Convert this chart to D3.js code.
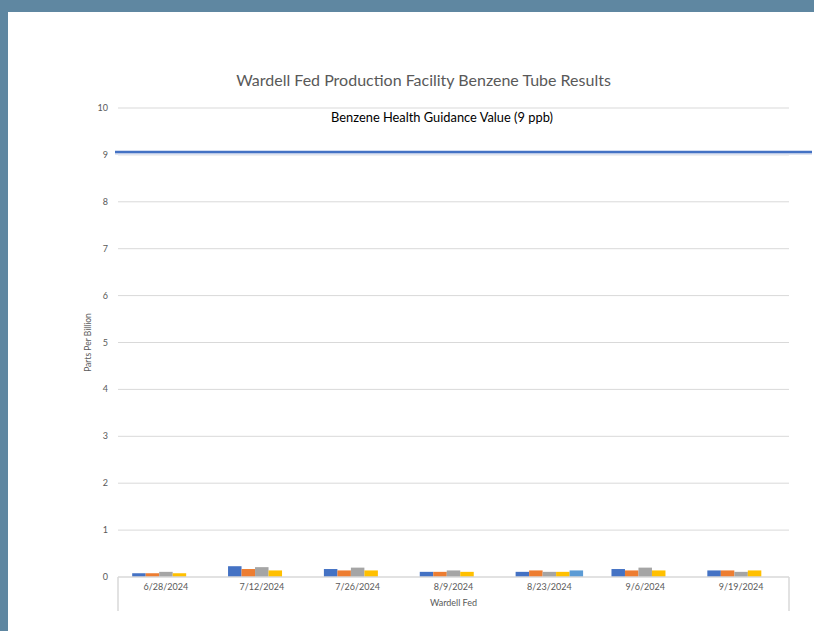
<!DOCTYPE html>
<html>
<head>
<meta charset="utf-8">
<script src="https://cdn.jsdelivr.net/npm/d3@7"></script>
<style>
  html, body { margin: 0; padding: 0; background: #5f87a1; }
  #chart { position: absolute; left: 8px; top: 12px; width: 806px; height: 619px; background: #fff; }
  svg { display: block; }
</style>
</head>
<body>
<div id="chart"></div>
<script>
const categories = ['6/28/2024', '7/12/2024', '7/26/2024', '8/9/2024', '8/23/2024', '9/6/2024', '9/19/2024'];
const seriesNames = ['Tube 1', 'Tube 2', 'Tube 3', 'Tube 4', 'Tube 5'];
const tube1 = [0.08, 0.23, 0.17, 0.11, 0.11, 0.17, 0.14];
const tube2 = [0.08, 0.17, 0.14, 0.11, 0.14, 0.14, 0.14];
const tube3 = [0.11, 0.21, 0.20, 0.14, 0.11, 0.20, 0.11];
const tube4 = [0.08, 0.14, 0.14, 0.11, 0.11, 0.14, 0.14];
const tube5 = [null, null, null, null, 0.14, null, null];
const yTicks = [0, 1, 2, 3, 4, 5, 6, 7, 8, 9, 10];
const guidanceValue = 9.06; // line drawn just above the 9 gridline
const groupLabel = 'Wardell Fed';
const titleText = 'Wardell Fed Production Facility Benzene Tube Results';
const guidanceText = 'Benzene Health Guidance Value (9 ppb)';
const yTitle = 'Parts Per Billion';

const colors = ['#4472c4', '#ed7d31', '#a5a5a5', '#ffc000', '#5b9bd5'];
const allSeries = [tube1, tube2, tube3, tube4, tube5];

// page coords are offset by the panel (8, 12)
const ox = 8, oy = 12;
const width = 806, height = 619;
const plot = { left: 118 - ox, right: 789 - ox, top: 108 - oy, bottom: 577 - oy };
const font = 'Lato, "Noto Sans", sans-serif';
const grey = '#595959', lineGrey = '#d9d9d9';

const svg = d3.select('#chart').append('svg').attr('width', width).attr('height', height);

const x = d3.scaleBand().domain(categories).range([plot.left, plot.right]).paddingInner(0.296).paddingOuter(0.148);
const xs = d3.scaleBand().domain(seriesNames).range([0, x.bandwidth()]);
const y = d3.scaleLinear().domain([0, 10]).range([plot.bottom, plot.top]);

// fit a text element to a target width by adjusting font-size
function fitWidth(sel, target) {
    const w = sel.node().getComputedTextLength();
    const fs = parseFloat(sel.attr('font-size'));
    sel.attr('font-size', fs * target / w);
}

// gridlines
svg.append('g')
    .selectAll('line')
    .data(yTicks.filter(d => d > 0))
    .join('line')
    .attr('x1', plot.left).attr('x2', plot.right)
    .attr('y1', d => y(d)).attr('y2', d => y(d))
    .attr('stroke', lineGrey).attr('stroke-width', 1);

// y tick labels
svg.append('g')
    .selectAll('text')
    .data(yTicks)
    .join('text')
    .attr('x', plot.left - 10)
    .attr('y', d => y(d) + 3)
    .attr('text-anchor', 'end')
    .attr('font-family', font).attr('font-size', 9).attr('fill', grey)
    .text(d => d);

// bars
const groups = svg.append('g')
    .selectAll('g')
    .data(categories)
    .join('g')
    .attr('transform', d => `translate(${x(d)},0)`);

groups.selectAll('rect')
    .data((c, i) => allSeries.map((s, k) => ({ name: seriesNames[k], value: s[i], color: colors[k] })).filter(d => d.value != null))
    .join('rect')
    .attr('x', d => xs(d.name))
    .attr('width', xs.bandwidth())
    .attr('y', d => y(d.value))
    .attr('height', d => y(0) - y(d.value))
    .attr('fill', d => d.color);

// category axis (multi-level)
const axisG = svg.append('g').attr('stroke', lineGrey).attr('stroke-width', 1.5);
axisG.append('line').attr('x1', plot.left).attr('x2', plot.right).attr('y1', y(0)).attr('y2', y(0));
axisG.append('line').attr('x1', plot.left).attr('x2', plot.left).attr('y1', y(0)).attr('y2', y(0) + 34);
axisG.append('line').attr('x1', plot.right).attr('x2', plot.right).attr('y1', y(0)).attr('y2', y(0) + 34);

svg.append('g')
    .selectAll('text')
    .data(categories)
    .join('text')
    .attr('x', d => x(d) + x.bandwidth() / 2)
    .attr('y', y(0) + 13)
    .attr('text-anchor', 'middle')
    .attr('font-family', font).attr('font-size', 9).attr('fill', grey)
    .text(d => d);

svg.append('text')
    .attr('x', (plot.left + plot.right) / 2)
    .attr('y', y(0) + 29)
    .attr('text-anchor', 'middle')
    .attr('font-family', font).attr('font-size', 9).attr('fill', grey)
    .text(groupLabel);

// y axis title
svg.append('text')
    .attr('transform', `translate(${91 - ox},${(plot.top + plot.bottom) / 2}) rotate(-90)`)
    .attr('text-anchor', 'middle')
    .attr('font-family', font).attr('font-size', 8.5).attr('fill', grey)
    .text(yTitle);

// guidance line
svg.append('line')
    .attr('x1', plot.left - 3).attr('x2', width - 2)
    .attr('y1', y(guidanceValue) + 2).attr('y2', y(guidanceValue) + 2)
    .attr('stroke', '#dfe5f2').attr('stroke-width', 2);
svg.append('line')
    .attr('x1', plot.left - 3).attr('x2', width - 2)
    .attr('y1', y(guidanceValue)).attr('y2', y(guidanceValue))
    .attr('stroke', '#4472c4').attr('stroke-width', 2.5);

const gText = svg.append('text')
    .attr('x', 442 - ox).attr('y', 122 - oy)
    .attr('text-anchor', 'middle')
    .attr('font-family', font).attr('font-size', 11).attr('fill', '#000')
    .text(guidanceText);
fitWidth(gText, 222);

// title
const title = svg.append('text')
    .attr('x', 423.5 - ox).attr('y', 86 - oy)
    .attr('text-anchor', 'middle')
    .attr('font-family', font).attr('font-size', 15).attr('fill', grey)
    .text(titleText);
fitWidth(title, 375);
</script>
</body>
</html>
